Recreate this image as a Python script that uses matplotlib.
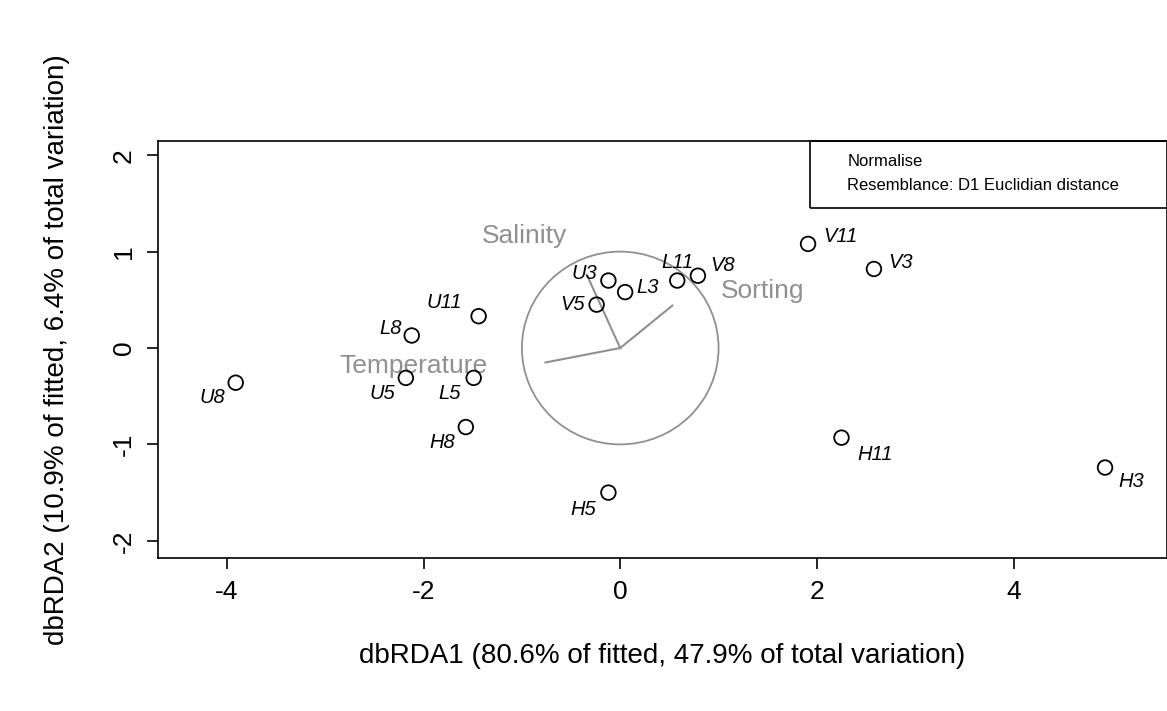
import matplotlib.pyplot as plt
from matplotlib.patches import Ellipse, Rectangle

plt.rcParams['font.family'] = ['Liberation Sans', 'DejaVu Sans']
plt.rcParams['axes.unicode_minus'] = False

names = ['U8', 'L8', 'U11', 'U5', 'L5', 'H8', 'H5', 'V5', 'U3', 'L3',
         'L11', 'V8', 'V11', 'V3', 'H11', 'H3']
x = [-3.91, -2.12, -1.44, -2.18, -1.49, -1.57, -0.12, -0.24, -0.12, 0.05,
     0.58, 0.79, 1.91, 2.58, 2.25, 4.93]
y = [-0.36, 0.13, 0.33, -0.31, -0.31, -0.82, -1.50, 0.45, 0.70, 0.58,
     0.70, 0.75, 1.08, 0.82, -0.93, -1.24]
# label offsets in points (dx, dy)
offs = [(-17, -11), (-15, 5), (-25, 10), (-17, -11), (-17, -11), (-17, -11),
        (-18, -12), (-17, 0), (-17, 5), (16, 3), (0, 13), (18, 7),
        (23, 5), (19, 5), (24, -12), (19, -10)]

vec_names = ['Temperature', 'Salinity', 'Sorting']
vec_x = [-0.76, -0.34, 0.53]
vec_y = [-0.15, 0.76, 0.44]
vec_lab_x = [-2.10, -0.97, 1.45]
vec_lab_y = [-0.19, 1.16, 0.59]

fig = plt.figure(figsize=(11.67, 7.11), dpi=100)
ax = fig.add_axes([0.1354, 0.215, 0.8646, 0.587])
ax.set_xlim(-4.70, 5.56)
ax.set_ylim(-2.18, 2.15)

gray = '#909090'
ax.add_patch(Ellipse((0, 0), 2, 2, fill=False, edgecolor=gray, lw=1.3))
for vx, vy in zip(vec_x, vec_y):
    ax.plot([0, vx], [0, vy], color=gray, lw=1.5)
for n, lx, ly in zip(vec_names, vec_lab_x, vec_lab_y):
    ax.text(lx, ly, n, color=gray, fontsize=19, ha='center', va='center')

ax.scatter(x, y, s=110, facecolors='none', edgecolors='black', linewidths=1.3, zorder=3)
for n, px, py, (dx, dy) in zip(names, x, y, offs):
    ax.annotate(n, (px, py), xytext=(dx, dy), textcoords='offset points',
                ha='center', va='center', fontsize=14.5, style='italic')

ax.add_patch(Rectangle((0.646, 0.839), 0.36, 0.161, transform=ax.transAxes,
                       fill=False, edgecolor='black', lw=1.2, clip_on=False))
ax.text(0.683, 0.95, 'Normalise', transform=ax.transAxes, fontsize=12, va='center')
ax.text(0.683, 0.893, 'Resemblance: D1 Euclidian distance', transform=ax.transAxes,
        fontsize=12, va='center')

ax.set_xticks([-4, -2, 0, 2, 4])
ax.set_yticks([-2, -1, 0, 1, 2])
ax.tick_params(labelsize=19, length=8, width=1.2, pad=8)
for lab in ax.get_yticklabels():
    lab.set_rotation(90)
    lab.set_va('center')
for s in ax.spines.values():
    s.set_linewidth(1.2)
ax.set_xlabel('dbRDA1 (80.6% of fitted, 47.9% of total variation)', fontsize=20, labelpad=28)
ax.set_ylabel('dbRDA2 (10.9% of fitted, 6.4% of total variation)', fontsize=20, labelpad=30)

fig.savefig('out.png', dpi=100)
